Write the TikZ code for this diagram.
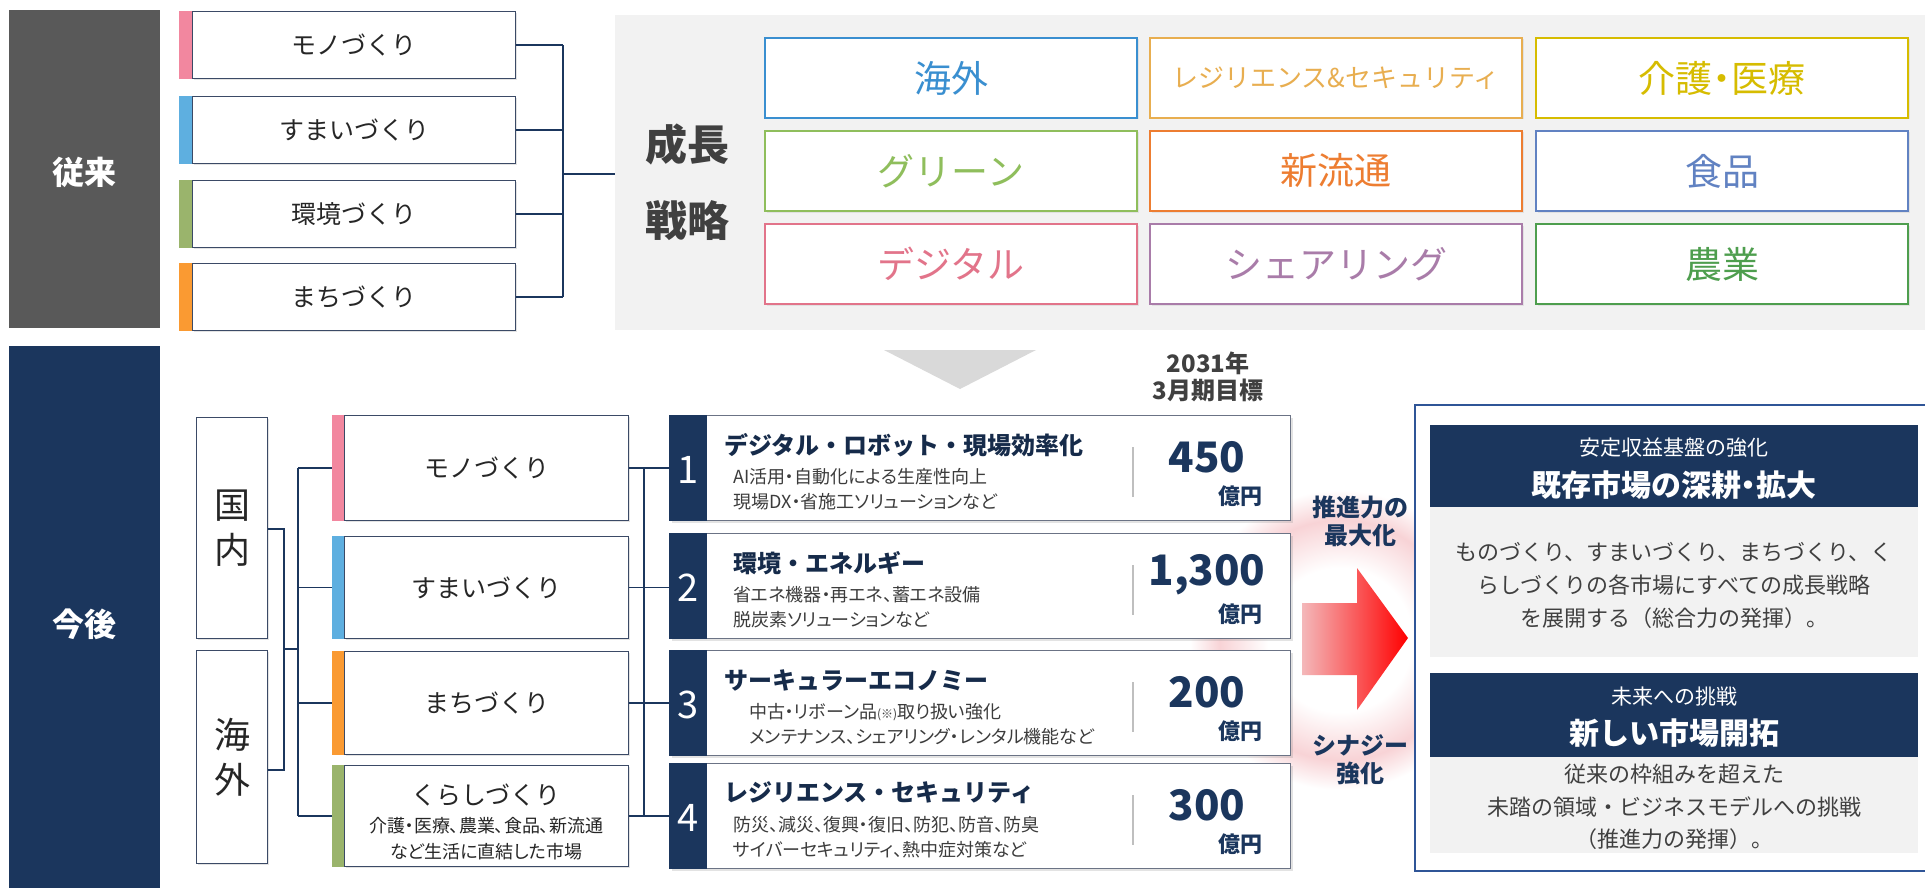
\documentclass[tikz,border=0pt]{standalone}
\usepackage{fontspec}
\setmainfont{Noto Sans CJK JP}
\usetikzlibrary{calc,shadows}
\definecolor{navy}{HTML}{1B365D}
\definecolor{dgray}{HTML}{595959}
\definecolor{pbar}{HTML}{F2879F}
\definecolor{bbar}{HTML}{5EAFE0}
\definecolor{gbar}{HTML}{9AB46C}
\definecolor{obar}{HTML}{FA9A32}
\definecolor{boxline}{HTML}{3B4A66}
\definecolor{txt}{HTML}{262626}
\definecolor{panelgray}{HTML}{F2F2F2}
\definecolor{tricol}{HTML}{D9D9D9}
\definecolor{sepgray}{HTML}{BFBFBF}
\definecolor{nline}{HTML}{6B7385}
\definecolor{rboxcol}{HTML}{2F5597}
\definecolor{bodytxt}{HTML}{404040}
\definecolor{glowpink}{HTML}{F8D3D6}
\definecolor{arrowpink}{HTML}{F4B8BA}
\definecolor{cKaigai}{HTML}{3A8FD0}
\definecolor{cResi}{HTML}{E8AE50}
\definecolor{cKaigo}{HTML}{D6BC00}
\definecolor{cGreen}{HTML}{8FBE5C}
\definecolor{cShin}{HTML}{ED7D31}
\definecolor{cShoku}{HTML}{6182C2}
\definecolor{cDigi}{HTML}{E2748A}
\definecolor{cShare}{HTML}{A97CA9}
\definecolor{cNou}{HTML}{4E9E4E}
\pgfdeclareradialshading{glow}{\pgfpoint{0bp}{0bp}}{color(0bp)=(white); color(12bp)=(white); color(20bp)=(glowpink); color(25bp)=(white); color(50bp)=(white)}
\tikzset{
  conn/.style={draw=navy, line width=1.5pt},
  sidebox/.style={anchor=north west, inner sep=0pt, minimum width=151pt, text=white, font=\bfseries\fontsize{32}{36}\selectfont},
  tlbox/.style={draw=boxline, fill=white, line width=1.1pt, minimum width=323pt, minimum height=67pt, anchor=north west, inner sep=0pt, font=\fontsize{25}{30}\selectfont, text=txt, drop shadow={shadow xshift=1.5pt, shadow yshift=-1.5pt, opacity=0.22}},
  gbox/.style={fill=white, line width=2pt, minimum width=372pt, minimum height=80pt, anchor=north west, inner sep=0pt, font=\fontsize{37}{40}\selectfont, drop shadow={shadow xshift=1.5pt, shadow yshift=-1.5pt, opacity=0.15}},
  vbox/.style={draw=boxline, fill=white, line width=1.1pt, minimum width=71pt, anchor=north west, inner sep=0pt, align=center, font=\fontsize{36}{45}\selectfont, text=txt, drop shadow={shadow xshift=1.5pt, shadow yshift=-1.5pt, opacity=0.22}},
  kbox/.style={draw=boxline, fill=white, line width=1.1pt, minimum width=284pt, anchor=north west, inner sep=0pt, font=\fontsize{25}{30}\selectfont, text=txt, drop shadow={shadow xshift=1.5pt, shadow yshift=-1.5pt, opacity=0.22}},
  nbox/.style={draw=nline, fill=white, line width=1.2pt, minimum width=621pt, minimum height=105pt, anchor=north west, inner sep=0pt, drop shadow={shadow xshift=2pt, shadow yshift=-2pt, opacity=0.22}},
  digit/.style={inner sep=0pt, text=white, font=\fontsize{38}{40}\selectfont},
  ntitle/.style={anchor=west, inner sep=0pt, text=navy!80!black, font=\bfseries\fontsize{24}{28}\selectfont},
  nsub/.style={anchor=west, inner sep=0pt, text=txt!90, font=\fontsize{18}{20}\selectfont\addfontfeatures{RawFeature=+palt}},
  nnum/.style={inner sep=0pt, text=navy, font=\bfseries\fontsize{42}{46}\selectfont},
  noku/.style={anchor=east, inner sep=0pt, text=navy, font=\bfseries\fontsize{22}{24}\selectfont},
  sepline/.style={draw=sepgray, line width=1.5pt},
  sidetxt/.style={inner sep=0pt, align=center, text=navy, font=\bfseries\fontsize{24}{28}\selectfont},
  hdr/.style={fill=navy, anchor=north west, inner sep=0pt, minimum width=488pt},
  bdy/.style={fill=panelgray, anchor=north west, inner sep=0pt, minimum width=488pt},
  hsmall/.style={inner sep=0pt, text=white, font=\fontsize{21}{24}\selectfont},
  hbig/.style={inner sep=0pt, text=white, font=\bfseries\fontsize{30}{34}\selectfont},
  btxt/.style={inner sep=0pt, align=center, text=bodytxt, font=\fontsize{22}{33}\selectfont}
}
\newcommand{\numbox}[9]{%
  \node[nbox] (#1) at (669,#2) {};
  \fill[navy] (#1.north west) rectangle ($(#1.south west)+(38,0)$);
  \node[digit] (#1d) at ($(#1.west)+(19,2)$) {#3};
  \node[ntitle] (#1t) at ($(#1.north west)+(#5,30)$) {#4};
  \node[nsub] (#1s) at ($(#1.north west)+(#8,62)$) {#6};
  \node[nsub] (#1u) at ($(#1.north west)+(#8,87)$) {#7};
  \draw[sepline] ($(#1.north west)+(464,32)$) -- ($(#1.north west)+(464,82)$);
  \node[nnum] (#1n) at ($(#1.north west)+(538,42)$) {#9};
  \node[noku] (#1o) at ($(#1.north west)+(594,81)$) {億円};
}
\begin{document}
\begin{tikzpicture}[x=1pt,y=-1pt]
\useasboundingbox (0,0) rectangle (1925,888);
\fill[white] (0,0) rectangle (1925,888);

% ===== top section =====
\node[sidebox, fill=dgray, minimum height=318pt] (jurai) at (9,10) {};
\node[inner sep=0pt, text=white, font=\bfseries\fontsize{32}{36}\selectfont] (juraiT) at (84,172) {従来};

\node[fill=panelgray, anchor=north west, inner sep=0pt, minimum width=1330pt, minimum height=315pt] (panel) at (615,15) {};

\node[tlbox] (m1) at (192,11) {モノづくり};
\node[tlbox] (m2) at (192,96) {すまいづくり};
\node[tlbox] (m3) at (192,180) {環境づくり};
\node[tlbox] (m4) at (192,263) {まちづくり};
\fill[pbar] ($(m1.north west)+(-13,0)$) rectangle (m1.south west);
\fill[bbar] ($(m2.north west)+(-13,0)$) rectangle (m2.south west);
\fill[gbar] ($(m3.north west)+(-13,0)$) rectangle (m3.south west);
\fill[obar] ($(m4.north west)+(-13,0)$) rectangle (m4.south west);

\coordinate (tj) at (563,174);
\foreach \i in {1,...,4} \draw[conn] (m\i.east) -- (m\i.east -| tj);
\draw[conn] (m1.east -| tj) -- (m4.east -| tj);
\draw[conn] (tj) -- (panel.west |- tj);

\node[inner sep=0pt, align=center, text=bodytxt, font=\bfseries\fontsize{42}{76}\selectfont] (seicho) at (687,182) {成長\\戦略};

\node[gbox, draw=cKaigai, text=cKaigai] (g11) at (764,37) {海外};
\node[gbox, draw=cResi, text=cResi, font=\fontsize{26}{30}\selectfont] (g12) at (1149,37) {レジリエンス\&セキュリティ};
\node[gbox, draw=cKaigo, text=cKaigo, font=\fontsize{37}{40}\selectfont\addfontfeatures{RawFeature=+palt}] (g13) at (1535,37) {介護・医療};
\node[gbox, draw=cGreen, text=cGreen] (g21) at (764,130) {グリーン};
\node[gbox, draw=cShin, text=cShin] (g22) at (1149,130) {新流通};
\node[gbox, draw=cShoku, text=cShoku] (g23) at (1535,130) {食品};
\node[gbox, draw=cDigi, text=cDigi] (g31) at (764,223) {デジタル};
\node[gbox, draw=cShare, text=cShare] (g32) at (1149,223) {シェアリング};
\node[gbox, draw=cNou, text=cNou] (g33) at (1535,223) {農業};

\fill[tricol] (884,350) -- (1036,350) -- (960,389) -- cycle;

% ===== bottom section =====
\node[sidebox, fill=navy, minimum height=542pt] (kongo) at (9,346) {};
\node[inner sep=0pt, text=white, font=\bfseries\fontsize{32}{36}\selectfont] (kongoT) at (84,624) {今後};

\node[inner sep=0pt, align=center, text=bodytxt, font=\bfseries\fontsize{24}{27}\selectfont] (target) at (1208,377) {2031年\\3月期目標};

\shade[shading=glow] (1340,640) circle (150);

\node[vbox, minimum height=221pt] (kn) at (196,417) {国\\内};
\node[vbox, minimum height=213pt] (kg) at (196,650) {海\\外};

\node[kbox, minimum height=105pt] (k1) at (344,415) {モノづくり};
\node[kbox, minimum height=102pt] (k2) at (344,536) {すまいづくり};
\node[kbox, minimum height=103pt] (k3) at (344,651) {まちづくり};
\node[kbox, minimum height=101pt] (k4) at (344,765) {};
\node[inner sep=0pt, text=txt, font=\fontsize{25}{30}\selectfont] (k4a) at (486,795) {くらしづくり};
\node[inner sep=0pt, align=center, text=txt, font=\fontsize{18}{26}\selectfont\addfontfeatures{RawFeature=+palt}] (k4b) at (486,839) {介護・医療、農業、食品、新流通\\など生活に直結した市場};

\coordinate (ka) at (284,529);
\coordinate (kb) at (284,770);
\coordinate (kc) at (298,649);
\draw[conn] (kn.east |- ka) -- (ka) -- (kb) -- (kg.east |- kb);
\draw[conn] (kc -| ka) -- (kc);
\draw[conn] (k1.west -| kc) -- (k4.west -| kc);
\foreach \i in {1,...,4} \draw[conn] (k\i.west -| kc) -- (k\i.west);
\fill[pbar] ($(k1.north west)+(-12,0)$) rectangle (k1.south west);
\fill[bbar] ($(k2.north west)+(-12,0)$) rectangle (k2.south west);
\fill[obar] ($(k3.north west)+(-12,0)$) rectangle (k3.south west);
\fill[gbar] ($(k4.north west)+(-12,0)$) rectangle (k4.south west);

\numbox{n1}{415}{1}{デジタル・ロボット・現場効率化}{55}{AI活用・自動化による生産性向上}{現場DX・省施工ソリューションなど}{64}{450}
\numbox{n2}{533}{2}{環境・エネルギー}{64}{省エネ機器・再エネ、蓄エネ設備}{脱炭素ソリューションなど}{64}{1,300}
\numbox{n3}{650}{3}{サーキュラーエコノミー}{55}{中古・リボーン品{\fontsize{12}{12}\selectfont(※)}取り扱い強化}{メンテナンス、シェアリング・レンタル機能など}{80}{200}
\numbox{n4}{763}{4}{レジリエンス・セキュリティ}{55}{防災、減災、復興・復旧、防犯、防音、防臭}{サイバーセキュリティ、熱中症対策など}{64}{300}

\coordinate (vx) at (644,0);
\foreach \i in {1,...,4} \draw[conn] (k\i.east) -- (k\i.east -| n\i.west);
\draw[conn] (k1.east -| vx) -- (k4.east -| vx);

% arrow and labels
\shade[left color=arrowpink, right color=red] (1302,603) -- (1357,603) -- (1357,568) -- (1408,638) -- (1357,710) -- (1357,675) -- (1302,675) -- cycle;
\node[sidetxt] (suishin) at (1360,521) {推進力の\\最大化};
\node[sidetxt] (synergy) at (1360,760) {シナジー\\強化};

% right panel
\node[fill=white, draw=rboxcol, line width=1.5pt, anchor=north west, inner sep=0pt, minimum width=530pt, minimum height=466pt] (rb) at (1414,404) {};
\node[hdr, minimum height=82pt] (h1) at (1430,425) {};
\node[bdy, minimum height=150pt] (b1) at (1430,507) {};
\node[hdr, minimum height=84pt] (h2) at (1430,673) {};
\node[bdy, minimum height=96pt] (b2) at (1430,757) {};
\node[hsmall] (h1a) at (1674,448) {安定収益基盤の強化};
\node[hbig, font=\bfseries\fontsize{30}{34}\selectfont\addfontfeatures{RawFeature=+palt}] (h1b) at (1674,485) {既存市場の深耕・拡大};
\node[btxt] (b1t) at (1674,585) {ものづくり、すまいづくり、まちづくり、く\\らしづくりの各市場にすべての成長戦略\\を展開する（総合力の発揮）。};
\node[hsmall] (h2a) at (1674,697) {未来への挑戦};
\node[hbig] (h2b) at (1674,733) {新しい市場開拓};
\node[btxt, font=\fontsize{22}{32.5}\selectfont] (b2t) at (1674,807) {従来の枠組みを超えた\\未踏の領域・ビジネスモデルへの挑戦\\（推進力の発揮）。};
\end{tikzpicture}
\end{document}
